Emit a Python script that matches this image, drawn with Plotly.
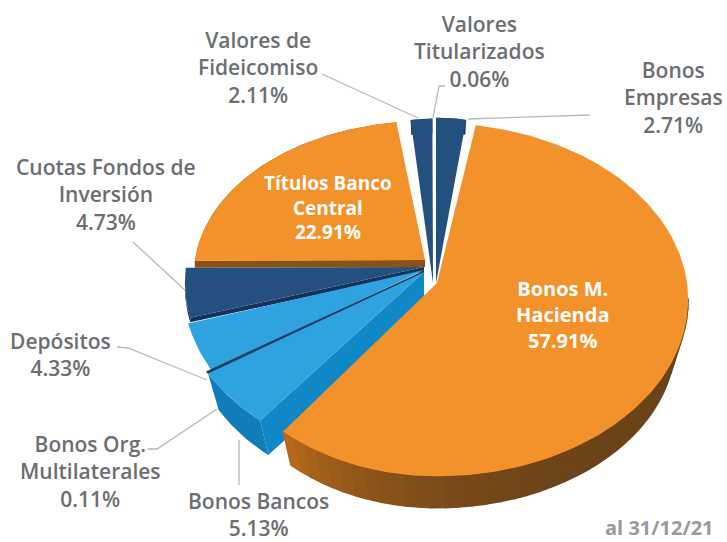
import math
import plotly.graph_objects as go

# values, clockwise from 12 o'clock
categories = ["Bonos Empresas", "Bonos M. Hacienda", "Bonos Bancos", "Bonos Org. Multilaterales",
              "Depósitos", "Cuotas Fondos de Inversión", "Títulos Banco Central",
              "Valores de Fideicomiso", "Valores Titularizados"]
values = [2.71, 57.91, 5.13, 0.11, 4.33, 4.73, 22.91, 2.11, 0.06]
label_text = ["Bonos<br>Empresas", "Bonos M.<br>Hacienda", "Bonos Bancos", "Bonos Org.<br>Multilaterales",
              "Depósitos", "Cuotas Fondos de<br>Inversión", "Títulos Banco<br>Central",
              "Valores de<br>Fideicomiso", "Valores<br>Titularizados"]
footnote = "al 31/12/21"

ORANGE = "#f3922a"
NAVY = "#23507f"
SKY = "#2ea3e0"
GREY = "#6d6e71"

# look of each slice: apex x, apex y, radii, depth of the wall, wall shrink, face and wall colours
slice_look = {
    "Bonos Empresas": (436, 283, 195, 181, 10, 0.97, NAVY, "#173a60"),
    "Bonos M. Hacienda": (437, 283, 250, 175, 41, 0.95, ORANGE, None),
    "Bonos Bancos": (424, 272, 245, 175, 42, 0.95, SKY, "#0e7db8"),
    "Bonos Org. Multilaterales": (424, 271.5, 245, 175, 0, 1, "#1c3f68", None),
    "Depósitos": (424, 270, 240, 175, 0, 1, SKY, None),
    "Cuotas Fondos de Inversión": (424, 267, 238, 166, 4.5, 1, NAVY, "#15325a"),
    "Títulos Banco Central": (425, 260, 230, 152, 7, 1, ORANGE, "#8c5215"),
    "Valores de Fideicomiso": (433, 283, 180, 180, 10, 0.97, NAVY, "#173a60"),
    "Valores Titularizados": (435, 283, 180, 180, 0, 1, NAVY, None),
}
# left half of the big slice is narrower, the picture is slightly turned
left_squeeze = {"Bonos M. Hacienda": 0.92}
front_edge = ["Bonos Bancos", "Cuotas Fondos de Inversión", "Títulos Banco Central"]
draw_order = ["Títulos Banco Central", "Valores de Fideicomiso", "Valores Titularizados", "Bonos Empresas",
              "Cuotas Fondos de Inversión", "Bonos Bancos", "Depósitos", "Bonos Org. Multilaterales",
              "Bonos M. Hacienda"]

# label placement: centre x, centre y, font size, colour, weight
label_pos = {
    "Bonos Empresas": (673, 97, 21, GREY, 600),
    "Bonos M. Hacienda": (562, 314, 20, "white", 700),
    "Bonos Bancos": (258, 514, 21, GREY, 600),
    "Bonos Org. Multilaterales": (90, 471, 21, GREY, 600),
    "Depósitos": (60, 354, 21, GREY, 600),
    "Cuotas Fondos de Inversión": (106, 194, 21, GREY, 600),
    "Títulos Banco Central": (328, 207, 19, "white", 700),
    "Valores de Fideicomiso": (258, 67, 21, GREY, 600),
    "Valores Titularizados": (479, 51, 21, GREY, 600),
}
leaders = [
    [(322, 74), (418, 118)],
    [(445, 86), (439, 86), (433, 118)],
    [(590, 115), (468, 119)],
    [(133, 242), (187, 292)],
    [(117, 347), (128, 348), (207, 380)],
    [(148, 449), (157, 449), (217, 409)],
    [(239, 485), (239, 440)],
]

TILT = 0.095


def project(name, deg, wall=False):
    cx, cy, rx, ry, depth, shrink = slice_look[name][:6]
    t = math.radians(deg)
    w = 1 / (1 + TILT * math.cos(t))
    px, py = rx * math.sin(t) * w, -ry * math.cos(t) * w
    if px < 0:
        px *= left_squeeze.get(name, 1)
    if wall:
        return cx + px * shrink, cy + py * shrink + depth
    return cx + px, cy + py


def arc(name, a, b, wall=False):
    n = max(2, int(abs(b - a)) + 2)
    return [project(name, a + (b - a) * i / (n - 1), wall) for i in range(n)]


def blob(fig, pts, color, edge=0):
    fig.add_trace(go.Scatter(
        x=[p[0] for p in pts], y=[p[1] for p in pts], mode="lines", fill="toself",
        fillcolor=color, line=dict(color=color, width=edge), hoverinfo="skip"))


def mix(c1, c2, f):
    a = [int(c1[i:i + 2], 16) for i in (1, 3, 5)]
    b = [int(c2[i:i + 2], 16) for i in (1, 3, 5)]
    return "rgb(%d,%d,%d)" % tuple(a[i] + (b[i] - a[i]) * f for i in range(3))


# angle span of every slice comes from the values
spans = {}
start = 0
for name, v in zip(categories, values):
    spans[name] = (start, start + v * 3.6)
    start += v * 3.6

fig = go.Figure()

for pts in leaders:
    fig.add_trace(go.Scatter(x=[p[0] for p in pts], y=[p[1] for p in pts], mode="lines",
                             line=dict(color="#b9b9b9", width=1.3), hoverinfo="skip"))

for name in draw_order:
    a, b = spans[name]
    cx, cy, rx, ry, depth, shrink, face, wall = slice_look[name]
    if name == "Bonos M. Hacienda":
        # wall of the big slice, lighter towards its cut edge
        steps = 40
        a0 = max(a, 95)
        for i in range(steps):
            s0 = a0 + (b - a0) * i / steps
            s1 = a0 + (b - a0) * (i + 1) / steps
            col = mix("#6a4318", "#b5691c", ((i + 1) / steps) ** 4)
            blob(fig, arc(name, s0, s1) + arc(name, s1, s0, True), col, 1.5)
    elif wall:
        blob(fig, arc(name, a, b) + arc(name, b, a, True), wall)
        if name in front_edge:
            edge_col = "#1087c6" if name == "Bonos Bancos" else wall
            blob(fig, [(cx, cy), (cx, cy + depth), project(name, a, True), project(name, a)], edge_col)
    edge = 1.5 if name == "Bonos Org. Multilaterales" else 0
    blob(fig, [(cx, cy)] + arc(name, a, b) + [(cx, cy)], face, edge)

for name, v in zip(categories, values):
    x, y, size, col, weight = label_pos[name]
    fig.add_annotation(x=x, y=y, text=f"{label_text[categories.index(name)]}<br>{v:.2f}%", showarrow=False,
                       align="center", xanchor="center", yanchor="middle",
                       font=dict(family="Open Sans", size=size, color=col, weight=weight))

fig.add_annotation(x=716, y=527, text=footnote, showarrow=False, xanchor="right", yanchor="middle",
                   font=dict(family="Open Sans", size=20, color="#9a9a9a", weight=700))

fig.update_layout(
    width=727, height=542, margin=dict(l=0, r=0, t=0, b=0),
    paper_bgcolor="white", plot_bgcolor="white", showlegend=False,
    xaxis=dict(range=[0, 727], visible=False, fixedrange=True),
    yaxis=dict(range=[542, 0], visible=False, fixedrange=True),
)

fig.write_html("out.html", config={"displayModeBar": False}, post_script="document.body.style.margin='0';")
